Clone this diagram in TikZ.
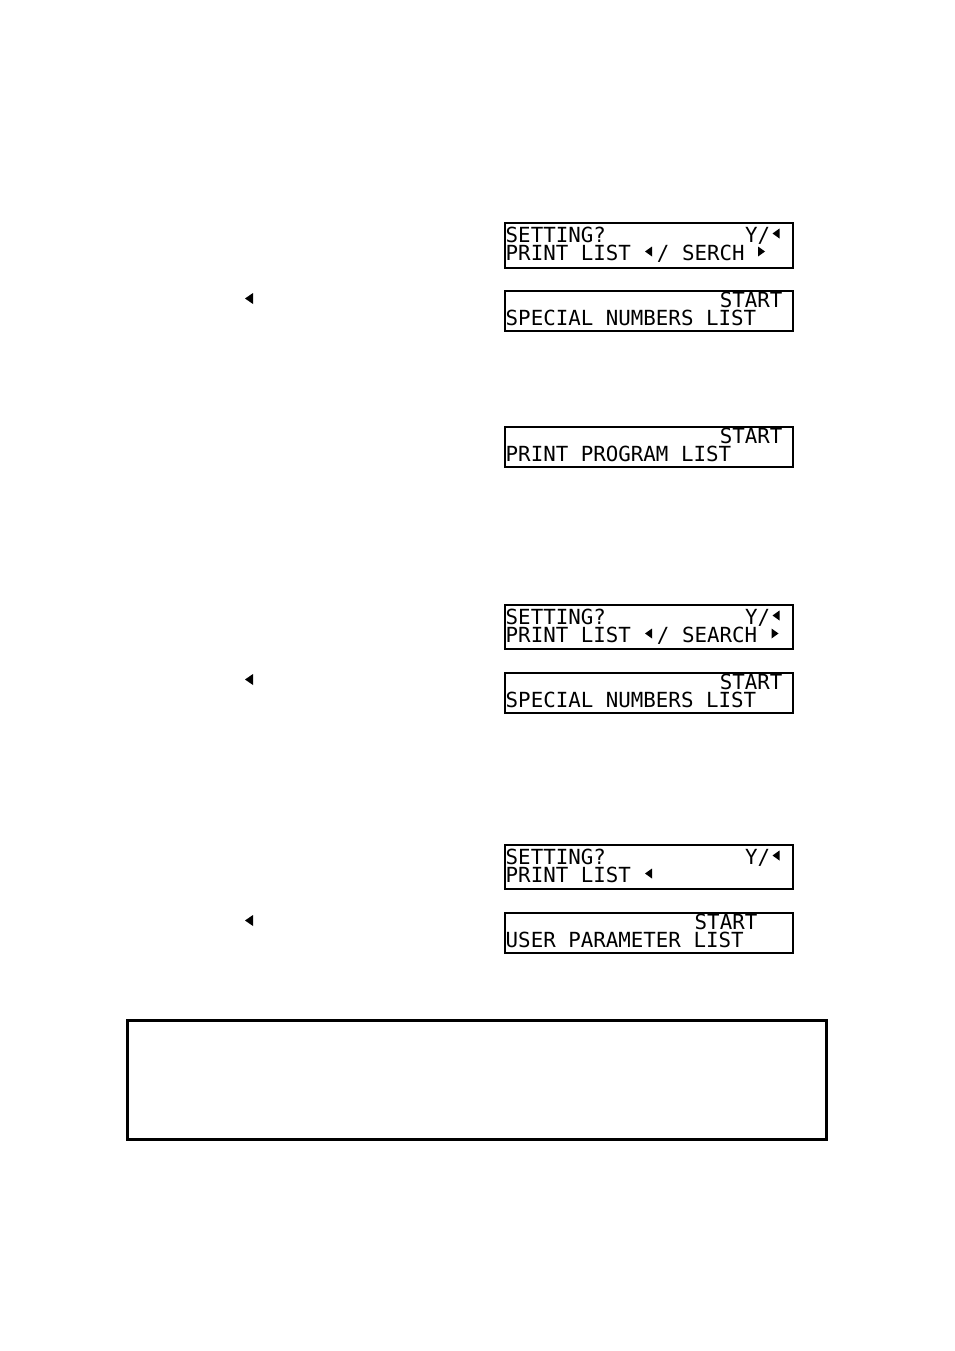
\documentclass[tikz,border=0pt]{standalone}
\usepackage{fontspec}
\newfontfamily\lcdfont{DejaVu Sans Mono}
\usepackage{tikz}
\newcommand\lcdcol[1]{505.5+12.6*#1}
\newcommand\triL[2]{\fill (#1,#2) ++(-3.5,0) -- ++(7,-5) -- ++(0,10) -- cycle;}
\newcommand\triR[2]{\fill (#1,#2) ++(3.5,0) -- ++(-7,-5) -- ++(0,10) -- cycle;}
\newcommand\keyL[2]{\fill (#1,#2) ++(-4,0) -- ++(8,-5.5) -- ++(0,11) -- cycle;}

\begin{document}
\begin{tikzpicture}[x=1pt,y=-1pt,
	lcdtext/.style={anchor=base west, inner sep=0pt, text height=15pt, text depth=0pt,
		font={\lcdfont\fontsize{20.8}{21}\selectfont}},
	lcdbox/.style={draw, line width=1.3pt},
	notebox/.style={draw, line width=3pt}]
	\useasboundingbox (0,0) rectangle (954,1351);
	% first setting
	\draw[lcdbox] (505,223) rectangle (793,268);
	\node[lcdtext] (s1a) at ({\lcdcol{0}},242) {SETTING?};
	\node[lcdtext] (s1b) at ({\lcdcol{19}},242) {Y/};
	\triL{776}{233.5}
	\node[lcdtext] (s1c) at ({\lcdcol{0}},260) {PRINT LIST};
	\node[lcdtext] (s1d) at ({\lcdcol{12}},260) {/};
	\node[lcdtext] (s1e) at ({\lcdcol{14}},260) {SERCH};
	\triL{648.5}{251.5}
	\triR{761.5}{251.5}
	\keyL{249}{298.5}
	\draw[lcdbox] (505,291) rectangle (793,331);
	\node[lcdtext] (s2a) at ({\lcdcol{17}},307) {START};
	\node[lcdtext] (s2b) at ({\lcdcol{0}},325) {SPECIAL NUMBERS LIST};
	% program list
	\draw[lcdbox] (505,427) rectangle (793,467);
	\node[lcdtext] (p1a) at ({\lcdcol{17}},443) {START};
	\node[lcdtext] (p1b) at ({\lcdcol{0}},461) {PRINT PROGRAM LIST};
	% second setting
	\draw[lcdbox] (505,605) rectangle (793,649);
	\node[lcdtext] (t1a) at ({\lcdcol{0}},624) {SETTING?};
	\node[lcdtext] (t1b) at ({\lcdcol{19}},624) {Y/};
	\triL{776}{615.5}
	\node[lcdtext] (t1c) at ({\lcdcol{0}},642) {PRINT LIST};
	\node[lcdtext] (t1d) at ({\lcdcol{12}},642) {/};
	\node[lcdtext] (t1e) at ({\lcdcol{14}},642) {SEARCH};
	\triL{648.5}{633.5}
	\triR{775}{633.5}
	\keyL{249}{679.5}
	\draw[lcdbox] (505,673) rectangle (793,713);
	\node[lcdtext] (t2a) at ({\lcdcol{17}},689) {START};
	\node[lcdtext] (t2b) at ({\lcdcol{0}},707) {SPECIAL NUMBERS LIST};
	% user parameters
	\draw[lcdbox] (505,845) rectangle (793,889);
	\node[lcdtext] (u1a) at ({\lcdcol{0}},864) {SETTING?};
	\node[lcdtext] (u1b) at ({\lcdcol{19}},864) {Y/};
	\triL{776}{855.5}
	\node[lcdtext] (u1c) at ({\lcdcol{0}},882) {PRINT LIST};
	\triL{648.5}{873.5}
	\keyL{249}{920.5}
	\draw[lcdbox] (505,913) rectangle (793,953);
	\node[lcdtext] (u2a) at ({\lcdcol{15}},929) {START};
	\node[lcdtext] (u2b) at ({\lcdcol{0}},947) {USER PARAMETER LIST};
	% note
	\draw[notebox] (127,1020) rectangle (826,1139);
\end{tikzpicture}
\end{document}
